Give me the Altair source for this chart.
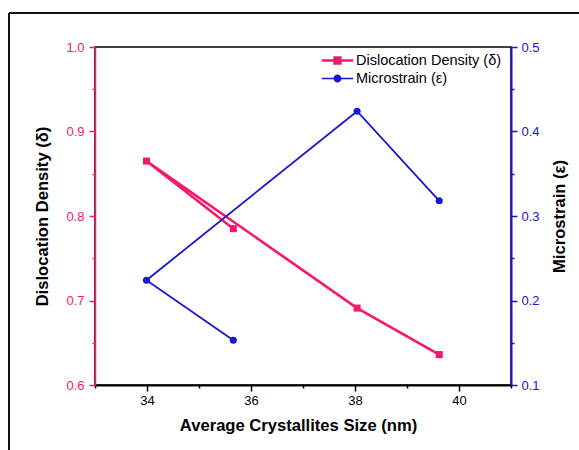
import altair as alt
import pandas as pd

# Measurements in sample order (the lines join the samples in this order)
crystallite_size = [35.66, 33.99, 38.04, 39.62]
dislocation_density = [0.785, 0.865, 0.691, 0.636]
microstrain = [0.153, 0.224, 0.424, 0.318]

series_names = ["Dislocation Density (δ)", "Microstrain (ε)"]

x_ticks = [34, 36, 38, 40]
x_minor = [33, 35, 37, 39, 41]
dd_ticks = [0.6, 0.7, 0.8, 0.9, 1.0]
dd_minor = [0.65, 0.75, 0.85, 0.95]
ms_ticks = [0.1, 0.2, 0.3, 0.4, 0.5]
ms_minor = [0.15, 0.25, 0.35, 0.45]

PINK = "#F7186E"
BLUE = "#1717CF"
FONT = "Liberation Sans"

# legend glyphs: short line with the marker in the middle
DD_GLYPH = ("M-1.86,-0.15H-0.45V0.15H-1.86Z M0.45,-0.15H1.86V0.15H0.45Z "
            "M-0.49,-0.49H0.49V0.49H-0.49Z")
MS_GLYPH = ("M-1.86,-0.1H-0.42V0.1H-1.86Z M0.42,-0.1H1.86V0.1H0.42Z "
            "M-0.47,0A0.47,0.47 0 1,1 0.47,0A0.47,0.47 0 1,1 -0.47,0Z")

df = pd.DataFrame({
    "sample": list(range(len(crystallite_size))),
    "size": crystallite_size,
    "dd": dislocation_density,
    "ms": microstrain,
})

x_scale = alt.Scale(domain=[33, 41], nice=False, zero=False)
dd_scale = alt.Scale(domain=[0.6, 1.0], nice=False, zero=False)
ms_scale = alt.Scale(domain=[0.1, 0.5], nice=False, zero=False)

title_style = dict(titleColor="black", titleFontSize=16.6, titleFontWeight="bold", titleFont=FONT)
label_style = dict(labelFontSize=13, labelFont=FONT)

x_main_axis = alt.Axis(
    orient="bottom", values=x_ticks, format="d", grid=False,
    domainColor="black", domainWidth=2, tickColor="black", tickWidth=1.5, tickSize=6,
    labelColor="black", labelPadding=3, titlePadding=10, titleX=203,
    **label_style, **title_style,
)
x_minor_axis = alt.Axis(
    orient="bottom", values=x_minor, labels=False, domain=False, grid=False,
    tickColor="black", tickWidth=1.5, tickSize=3,
)
dd_main_axis = alt.Axis(
    orient="left", values=dd_ticks, format=".1f", grid=False,
    domainColor=PINK, domainWidth=1.5, tickColor=PINK, tickWidth=1.5, tickSize=6,
    labelColor=PINK, labelPadding=5, titlePadding=15,
    **label_style, **title_style,
)
dd_minor_axis = alt.Axis(
    orient="left", values=dd_minor, labels=False, domain=False, grid=False,
    tickColor=PINK, tickWidth=1.5, tickSize=3,
)
ms_main_axis = alt.Axis(
    orient="right", values=ms_ticks, format=".1f", grid=False,
    domainColor=BLUE, domainWidth=2, tickColor=BLUE, tickWidth=1.5, tickSize=6,
    labelColor=BLUE, labelPadding=4, titlePadding=12, titleAngle=270, titleBaseline="top",
    **label_style, **title_style,
)
ms_minor_axis = alt.Axis(
    orient="right", values=ms_minor, labels=False, domain=False, grid=False,
    tickColor=BLUE, tickWidth=1.5, tickSize=3,
)

base = alt.Chart(df)

dd_line = base.mark_line(color=PINK, strokeWidth=2.6).encode(
    x=alt.X("size:Q", scale=x_scale, axis=x_main_axis, title="Average Crystallites Size (nm)"),
    y=alt.Y("dd:Q", scale=dd_scale, axis=dd_main_axis, title="Dislocation Density (δ)"),
    order=alt.Order("sample:Q"),
)
dd_points = base.mark_point(shape="square", filled=True, color=PINK, size=50, opacity=1).encode(
    x=alt.X("size:Q", scale=x_scale, axis=x_minor_axis, title=None),
    y=alt.Y("dd:Q", scale=dd_scale, axis=dd_minor_axis, title=None),
)
ms_line = base.mark_line(color=BLUE, strokeWidth=1.8).encode(
    x=alt.X("size:Q", scale=x_scale, axis=None),
    y=alt.Y("ms:Q", scale=ms_scale, axis=ms_main_axis, title="Microstrain (ε)"),
    order=alt.Order("sample:Q"),
)
ms_points = base.mark_point(shape="circle", filled=True, color=BLUE, size=50, opacity=1).encode(
    x=alt.X("size:Q", scale=x_scale, axis=None),
    y=alt.Y("ms:Q", scale=ms_scale, axis=ms_minor_axis, title=None),
)

legend_props = dict(
    title=None, orient="none", legendX=234, legendY=5, padding=0,
    symbolSize=289, symbolOpacity=1, symbolStrokeWidth=0,
    labelFont=FONT, labelFontSize=14.5, labelColor="black", labelOffset=10, rowPadding=3,
)
legend_layer = alt.Chart(pd.DataFrame({"series": series_names})).mark_point(
    filled=True, opacity=0, strokeWidth=0
).encode(
    color=alt.Color("series:N", scale=alt.Scale(domain=series_names, range=[PINK, BLUE]),
                    legend=alt.Legend(**legend_props)),
    shape=alt.Shape("series:N", scale=alt.Scale(domain=series_names, range=[DD_GLYPH, MS_GLYPH]),
                    legend=alt.Legend(**legend_props)),
)

# figure frame (left and top edges)
frame_src = alt.Chart(pd.DataFrame({"edge": ["frame"]}))
frame_left = frame_src.mark_rule(color="#111111", strokeWidth=2).encode(
    x=alt.value(-86), y=alt.value(-34), y2=alt.value(420)
)
frame_top = frame_src.mark_rule(color="#111111", strokeWidth=2).encode(
    x=alt.value(-86), x2=alt.value(500), y=alt.value(-34)
)

chart = alt.layer(
    frame_left, frame_top, dd_line, dd_points, ms_line, ms_points, legend_layer
).resolve_scale(
    y="independent"
).resolve_axis(
    x="independent", y="independent"
).properties(
    width=416, height=338,
    padding={"left": 95, "top": 47, "right": 68, "bottom": 65},
    autosize=alt.AutoSizeParams(type="none"),
    background="white",
).configure_view(
    stroke="black", strokeWidth=1.5
)

chart.save("out.html", embed_options={"renderer": "svg", "actions": False})
